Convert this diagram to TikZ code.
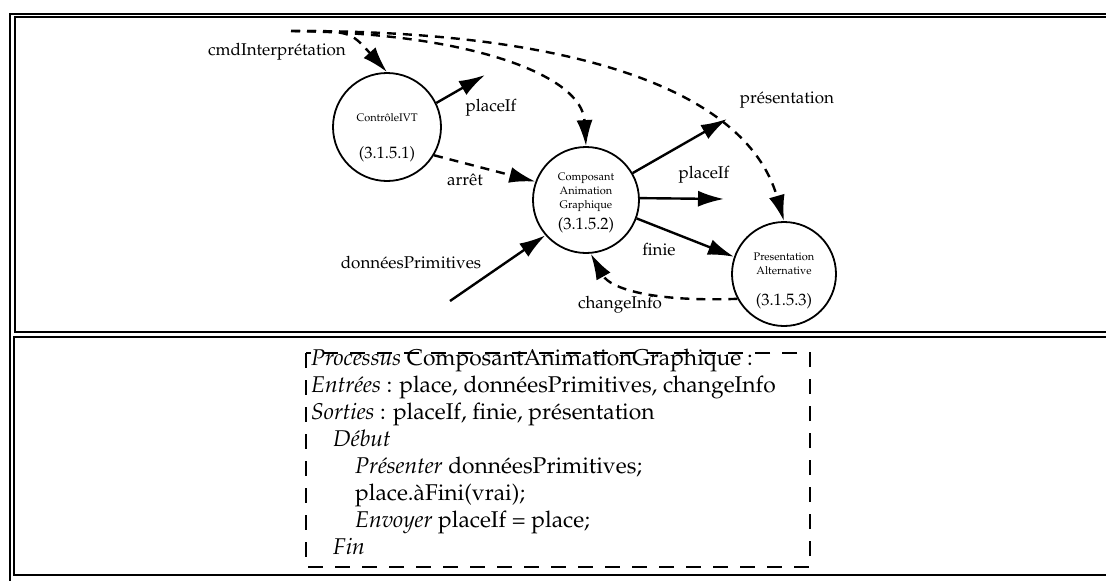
\documentclass[tikz,border=0pt]{standalone}
\usepackage[T1]{fontenc}
\usepackage{mathpazo}
\usetikzlibrary{arrows.meta}

\tikzset{
  proc/.style={draw, circle, line width=1.8pt, minimum size=#1, inner sep=0pt,
    align=center, font=\fontsize{11}{14}\selectfont},
  flow/.style={line width=2.4pt, -{Latex[length=26pt,width=16pt]}},
  ctrlflow/.style={flow, dash pattern=on 9pt off 7pt},
  lbl/.style={font=\fontsize{17}{20}\selectfont, inner sep=0pt},
  frame/.style={line width=1.8pt},
  codebox/.style={line width=1.5pt, dash pattern=on 15pt off 12pt},
}
\newcommand{\procnum}[1]{{\fontsize{16.5}{18}\selectfont #1}}

\begin{document}
\begin{tikzpicture}[x=1pt, y=-1pt]
  \useasboundingbox (0,0) rectangle (1106,581);
  % frames
  \draw[frame] (10,581) -- (10,14) -- (1106,14);
  \draw[frame] (1106,17) -- (15,17) -- (15,332) -- (1106,332);
  \draw[frame] (1106,337) -- (14,337) -- (14,575) -- (1106,575);

  % processes
  \node[proc=108pt] (ctrl) at (387,127)
    {\rule{0pt}{30pt}ContrôleIVT\\[23pt]\procnum{(3.1.5.1)}};
  \node[proc=106pt] (comp) at (586,200)
    {\rule{0pt}{14pt}Composant\\Animation\\Graphique\\[5pt]\procnum{(3.1.5.2)}};
  \node[proc=104pt] (pres) at (784,274)
    {\rule{0pt}{22pt}Presentation\\Alternative\\[17pt]\procnum{(3.1.5.3)}};

  \coordinate (cmdsrc) at (291,31);
  \coordinate (ctrlout) at (485,75);
  \coordinate (donsrc) at (450,301);
  \coordinate (presout) at (727,119);
  \coordinate (placeout) at (724,199);

  % flows
  \draw[ctrlflow] (cmdsrc) .. controls (350,31) .. (ctrl.north);
  \draw[ctrlflow] (cmdsrc) .. controls (470,33) and (582,75) .. (comp.north);
  \draw[ctrlflow] (cmdsrc) .. controls (560,30) and (745,85) .. (pres.north);
  \draw[flow] (ctrl.26) -- (ctrlout);
  \draw[ctrlflow] (ctrl.-31) -- (comp.160);
  \draw[flow] (donsrc) -- (comp.221);
  \draw[flow] (comp.30) -- (presout);
  \draw[flow] (comp.2) -- (placeout);
  \draw[flow] (comp.-20) -- (pres.161);
  \draw[ctrlflow] (pres.208) .. controls (650,302) and (610,288) .. (comp.-85);

  % labels
  \node[lbl] (lcmd) at (277,52) {cmdInterprétation};
  \node[lbl] (lplace) at (491,108) {placeIf};
  \node[lbl] (larret) at (465,180) {arrêt};
  \node[lbl] (ldon) at (411,263) {donnéesPrimitives};
  \node[lbl] (lpres) at (787,100) {présentation};
  \node[lbl] (lplacetwo) at (704,175) {placeIf};
  \node[lbl] (lfinie) at (659,250) {finie};
  \node[lbl] (lchange) at (620,305) {changeInfo};

  % pseudo-code
  \draw[codebox] (306,353) rectangle (810,567);
  \node[anchor=north west, inner sep=0pt, align=left,
        font=\fontsize{22.8}{27}\selectfont] (algo) at (311,349)
    {\textit{Processus} ComposantAnimationGraphique :\\
     \textit{Entrées} : place, donnéesPrimitives, changeInfo\\
     \textit{Sorties} : placeIf, finie, présentation\\
     \hspace*{22pt}\textit{Début}\\
     \hspace*{44pt}\textit{Présenter} donnéesPrimitives;\\
     \hspace*{44pt}place.àFini(vrai);\\
     \hspace*{44pt}\textit{Envoyer} placeIf = place;\\
     \hspace*{22pt}\textit{Fin}};
\end{tikzpicture}
\end{document}
